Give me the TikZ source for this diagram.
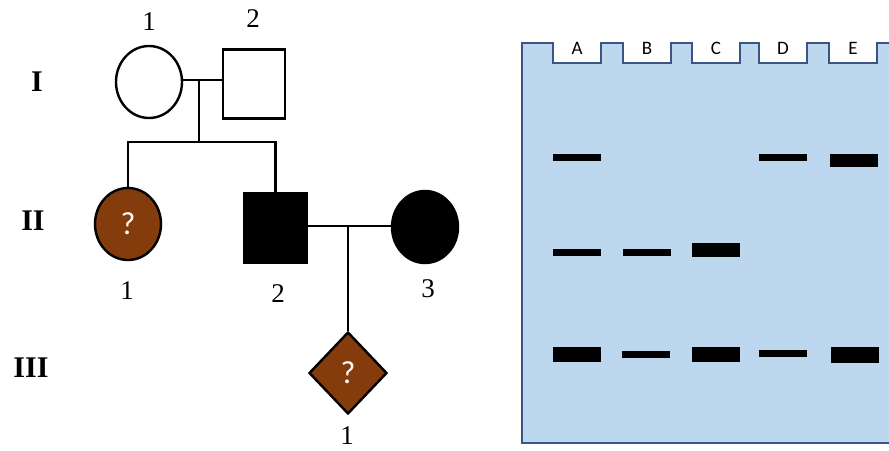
\documentclass[tikz,border=0pt]{standalone}
\usepackage{fontspec}
\setmainfont{Liberation Serif}
\newfontfamily\gelfont{Carlito}
\usetikzlibrary{shapes.geometric}
\definecolor{qbrown}{HTML}{843C0C}
\definecolor{gelblue}{HTML}{BDD7EE}
\definecolor{gelline}{HTML}{3A5583}
\tikzset{
  person/.style={draw, line width=2.4pt, inner sep=0pt},
  female/.style={person, ellipse, minimum width=66pt, minimum height=72pt},
  male/.style={person, rectangle, minimum width=62pt, minimum height=69pt},
  unknown/.style={person, diamond, minimum width=78pt, minimum height=82pt},
  ask/.style={text=white, font=\gelfont\fontsize{32}{36}\selectfont},
  num/.style={inner sep=0pt, font=\fontsize{27}{30}\selectfont},
  gen/.style={inner sep=0pt, font=\fontsize{30}{34}\selectfont\bfseries},
  lane/.style={inner sep=0pt, font=\gelfont\fontsize{19}{22}\selectfont},
  link/.style={line width=2.4pt}
}
\begin{document}
\begin{tikzpicture}[x=1pt,y=-1pt]
\clip (0,0) rectangle (889,450);
\fill[white] (0,0) rectangle (889,450);
% generations
\node[gen] (g1) at (37,82) {I};
\node[gen] (g2) at (33,221) {II};
\node[gen] (g3) at (31,368) {III};
% generation I
\node[female] (i1) at (149,82) {};
\node[male] (i2) at (254,84) {};
\node[num] (n-i1) at (149,22) {1};
\node[num] (n-i2) at (253,19) {2};
% generation II
\node[female, fill=qbrown] (ii1) at (128,224) {};
\node[ask] (q-ii1) at (ii1) {?};
\node[male, fill=black] (ii2) at (275.5,228) {};
\node[female, fill=black] (ii3) at (425,227) {};
\node[num] (n-ii1) at (127,291) {1};
\node[num] (n-ii2) at (278,294) {2};
\node[num] (n-ii3) at (428,289) {3};
% generation III
\node[unknown, fill=qbrown] (iii1) at (348,373) {};
\node[ask] (q-iii1) at (iii1) {?};
\node[num] (n-iii1) at (347,436) {1};
% lines
\coordinate (m1) at (199,80);
\coordinate (s1) at (199,142);
\coordinate (m2) at (348,226);
\draw[link] (m1 -| i1.east) -- (m1 -| i2.west);
\draw[link] (m1) -- (s1);
\draw[link] (ii1.north) |- (s1) -| (ii2.north);
\draw[link] (m2 -| ii2.east) -- (m2 -| ii3.west);
\draw[link] (m2) -- (iii1.north);
% gel
\draw[fill=gelblue, draw=gelline, line width=1.5pt]
  (522,443) -- (522,43)
  \foreach \x in {553,623,692,759,829} { -- (\x,43) -- (\x,63) -- (\x+48,63) -- (\x+48,43) }
  -- (900,43) -- (900,443) -- cycle;
\foreach \x/\l in {553/A,623/B,692/C,759/D,829/E}
  \node[lane] (lane-\l) at (\x+24,48) {\l};
% bands
\foreach \x/\y/\t in {553/157/7, 759/157/7, 830/160/13,
                      553/252/7, 623/252/7, 692/250/14,
                      553/354/15, 622/354/7, 692/354/15, 759/353/7, 831/355/16}
  \fill[black] (\x,\y-\t/2) rectangle ++(48,\t);
\end{tikzpicture}
\end{document}
